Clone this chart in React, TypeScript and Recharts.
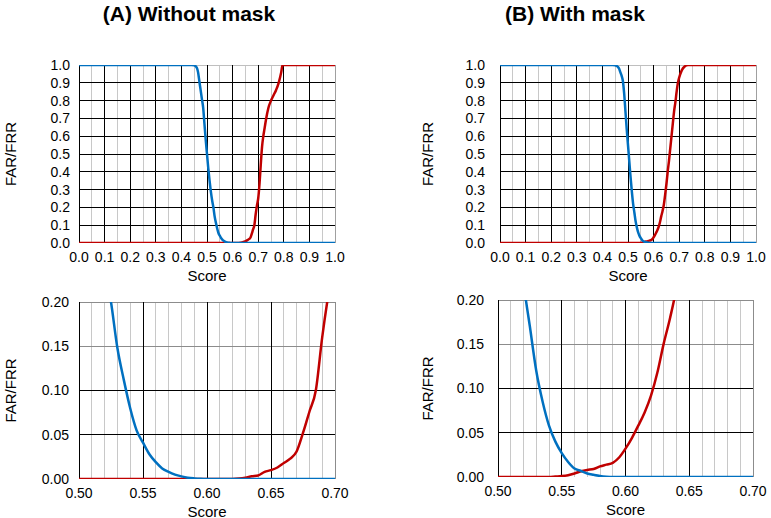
import React from 'react'
import { LineChart, Line, XAxis, YAxis, ReferenceLine } from 'recharts'

// blue curve (decreasing) and red curve (increasing)
const farAScore = [0, 0.44, 0.45, 0.46, 0.465, 0.47, 0.475, 0.48, 0.485, 0.49, 0.495, 0.5, 0.505, 0.51, 0.515, 0.52, 0.525, 0.53, 0.535, 0.54, 0.545, 0.55, 0.555, 0.56, 0.565, 0.57, 0.575, 0.58, 0.585, 0.59, 0.595, 0.6, 1.0]
const farA = [1, 1, 0.998, 0.985, 0.96, 0.91, 0.86, 0.81, 0.76, 0.67, 0.58, 0.5, 0.42, 0.35, 0.29, 0.24, 0.2, 0.148, 0.112, 0.08, 0.055, 0.041, 0.028, 0.019, 0.012, 0.008, 0.005, 0.003, 0.0015, 0.0007, 0.0002, 0, 0]
const frrAScore = [0, 0.62, 0.625, 0.63, 0.635, 0.64, 0.645, 0.65, 0.655, 0.66, 0.665, 0.67, 0.675, 0.68, 0.685, 0.69, 0.695, 0.7, 0.705, 0.71, 0.715, 0.72, 0.725, 0.73, 0.74, 0.75, 0.76, 0.77, 0.78, 0.79, 0.795, 1.0]
const frrA = [0, 0, 0.0005, 0.0015, 0.003, 0.004, 0.008, 0.01, 0.013, 0.018, 0.023, 0.031, 0.052, 0.076, 0.1, 0.16, 0.21, 0.25, 0.33, 0.44, 0.54, 0.6, 0.645, 0.69, 0.76, 0.8, 0.83, 0.86, 0.9, 0.96, 1, 1]

const farBScore = [0, 0.44, 0.45, 0.46, 0.465, 0.47, 0.475, 0.48, 0.485, 0.49, 0.495, 0.5, 0.505, 0.51, 0.515, 0.52, 0.525, 0.53, 0.535, 0.54, 0.545, 0.55, 0.555, 0.56, 0.565, 0.57, 0.575, 0.58, 0.585, 0.59, 1.0]
const farB = [1, 1, 0.998, 0.99, 0.98, 0.96, 0.94, 0.91, 0.84, 0.74, 0.64, 0.55, 0.46, 0.37, 0.29, 0.22, 0.17, 0.12, 0.085, 0.058, 0.04, 0.027, 0.017, 0.0095, 0.0068, 0.004, 0.0025, 0.0012, 0.0004, 0, 0]
const frrBScore = [0, 0.54, 0.545, 0.55, 0.555, 0.56, 0.565, 0.57, 0.575, 0.58, 0.585, 0.59, 0.595, 0.6, 0.605, 0.61, 0.615, 0.62, 0.625, 0.63, 0.635, 0.64, 0.645, 0.65, 0.655, 0.66, 0.665, 0.67, 0.675, 0.68, 0.685, 0.69, 0.695, 0.7, 0.71, 0.72, 0.735, 1.0]
const frrB = [0, 0, 0.0005, 0.001, 0.002, 0.004, 0.0065, 0.008, 0.009, 0.012, 0.014, 0.016, 0.022, 0.032, 0.044, 0.058, 0.073, 0.092, 0.118, 0.151, 0.18, 0.215, 0.27, 0.33, 0.4, 0.46, 0.53, 0.6, 0.67, 0.74, 0.79, 0.85, 0.9, 0.93, 0.97, 0.99, 1, 1]

// axis ticks and grid
const fullTicks = [0, 0.1, 0.2, 0.3, 0.4, 0.5, 0.6, 0.7, 0.8, 0.9, 1.0]
const fullMajor = [0.1, 0.2, 0.3, 0.4, 0.5, 0.6, 0.7, 0.8, 0.9]
const fullMinor = [0.05, 0.15, 0.25, 0.35, 0.45, 0.55, 0.65, 0.75, 0.85, 0.95]
const zoomXTicks = [0.5, 0.55, 0.6, 0.65, 0.7]
const zoomYTicks = [0, 0.05, 0.1, 0.15, 0.2]
const zoomXMajor = [0.55, 0.6, 0.65]
const zoomXMinor = [0.51, 0.52, 0.53, 0.54, 0.56, 0.57, 0.58, 0.59, 0.61, 0.62, 0.63, 0.64, 0.66, 0.67, 0.68, 0.69]
const zoomYBlack = [0.05, 0.1]
const zoomYGray = [0.15, 0.2]

const BLUE = '#0070C0'
const RED = '#C00000'
const FONT = '"Liberation Sans", Arial, sans-serif'

const toPoints = (xs: number[], ys: number[]) => xs.map((s, i) => ({ score: s, value: ys[i] }))

const yLabel = (dx: number) => (props: any) => {
  const vb = props.viewBox || { x: 0, y: 0, width: 0, height: 0 }
  const x = vb.x + dx
  const y = vb.y + vb.height / 2
  return (
    <text x={x} y={y} transform={`rotate(-90, ${x}, ${y})`} textAnchor="middle" dominantBaseline="central" fontSize={15} fill="#000" fontFamily={FONT}>
      FAR/FRR
    </text>
  )
}

const xLabel = (dy: number) => (props: any) => {
  const vb = props.viewBox || { x: 0, y: 0, width: 0, height: 0 }
  return (
    <text x={vb.x + vb.width / 2} y={vb.y + dy} textAnchor="middle" dominantBaseline="central" fontSize={15} fill="#000" fontFamily={FONT}>
      Score
    </text>
  )
}

interface PanelProps {
  far: { score: number; value: number }[]
  frr: { score: number; value: number }[]
  zoom: boolean
  left: number
  top: number
  width: number
  height: number
  margin: { top: number; right: number; left: number; bottom: number }
  yWidth: number
  xHeight: number
  yTickGap: number
  yLabelX: number
  xLabelY: number
}

function Panel(p: PanelProps) {
  const tick = { fill: '#000', fontSize: 14, fontFamily: FONT }
  const grid = (v: number, axis: 'x' | 'y', color: string) =>
    axis === 'x' ? (
      <ReferenceLine key={`x${v}`} x={v} stroke={color} strokeWidth={1} shapeRendering="crispEdges" ifOverflow="visible" />
    ) : (
      <ReferenceLine key={`y${v}`} y={v} stroke={color} strokeWidth={1} shapeRendering="crispEdges" ifOverflow="visible" />
    )
  return (
    <div style={{ position: 'absolute', left: p.left, top: p.top }}>
      <LineChart width={p.width} height={p.height} margin={p.margin}>
        <XAxis
          dataKey="score"
          type="number"
          domain={p.zoom ? [0.5, 0.7] : [0, 1]}
          ticks={p.zoom ? zoomXTicks : fullTicks}
          tickFormatter={(v: number) => v.toFixed(p.zoom ? 2 : 1)}
          allowDataOverflow
          axisLine={false}
          tickLine={false}
          tickSize={6}
          tickMargin={3}
          height={p.xHeight}
          tick={tick}
          interval={0}
          label={xLabel(p.xLabelY)}
        />
        <YAxis
          type="number"
          domain={p.zoom ? [0, 0.2] : [0, 1]}
          ticks={p.zoom ? zoomYTicks : fullTicks}
          tickFormatter={(v: number) => v.toFixed(p.zoom ? 2 : 1)}
          allowDataOverflow
          axisLine={false}
          tickLine={false}
          tickSize={6}
          tickMargin={p.yTickGap - 6}
          width={p.yWidth}
          tick={tick}
          interval={0}
          label={yLabel(p.yLabelX)}
        />
        {p.zoom ? (
          <>
            {zoomXMinor.map((v) => grid(v, 'x', '#C8C8C8'))}
            {zoomYGray.map((v) => grid(v, 'y', '#8C8C8C'))}
            {zoomYBlack.map((v) => grid(v, 'y', '#000'))}
            {zoomXMajor.map((v) => grid(v, 'x', '#000'))}
            {grid(0.7, 'x', '#8C8C8C')}
            {grid(0.5, 'x', '#000')}
          </>
        ) : (
          <>
            {fullMinor.map((v) => grid(v, 'x', '#C8C8C8'))}
            {grid(1, 'y', '#BFBFBF')}
            {fullMajor.map((v) => grid(v, 'y', '#000'))}
            {fullMajor.map((v) => grid(v, 'x', '#000'))}
            {grid(1, 'x', '#A0A0A0')}
            {grid(0, 'x', '#000')}
          </>
        )}
        <Line data={p.frr} dataKey="value" type="monotone" stroke={RED} strokeWidth={2.5} dot={false} isAnimationActive={false} />
        <Line data={p.far} dataKey="value" type="monotone" stroke={BLUE} strokeWidth={2.5} dot={false} isAnimationActive={false} />
      </LineChart>
    </div>
  )
}

export default function App() {
  const farPtsA = toPoints(farAScore, farA)
  const frrPtsA = toPoints(frrAScore, frrA)
  const farPtsB = toPoints(farBScore, farB)
  const frrPtsB = toPoints(frrBScore, frrB)
  const titleStyle: React.CSSProperties = {
    position: 'absolute',
    top: 0,
    width: 300,
    height: 28,
    lineHeight: '28px',
    textAlign: 'center',
    fontWeight: 'bold',
    fontSize: 21,
    fontFamily: FONT,
    color: '#000',
  }
  return (
    <div style={{ position: 'absolute', left: 0, top: 0, width: 771, height: 518, background: '#fff', fontFamily: FONT }}>
      <div style={{ ...titleStyle, left: 189 - 150 }}>(A) Without mask</div>
      <div style={{ ...titleStyle, left: 575 - 150 }}>(B) With mask</div>
      <Panel far={farPtsA} frr={frrPtsA} zoom={false} left={0} top={40} width={385} height={245}
        margin={{ top: 25, right: 50, left: 0, bottom: 0 }} yWidth={79} xHeight={42} yTickGap={9} yLabelX={10} xLabelY={32} />
      <Panel far={farPtsB} frr={frrPtsB} zoom={false} left={385} top={40} width={386} height={245}
        margin={{ top: 25, right: 15, left: 0, bottom: 0 }} yWidth={115} xHeight={42} yTickGap={15} yLabelX={42} xLabelY={32} />
      <Panel far={farPtsA} frr={frrPtsA} zoom={true} left={0} top={280} width={385} height={238}
        margin={{ top: 22, right: 50, left: 0, bottom: 0 }} yWidth={79} xHeight={39} yTickGap={10} yLabelX={10} xLabelY={32} />
      <Panel far={farPtsB} frr={frrPtsB} zoom={true} left={385} top={280} width={386} height={238}
        margin={{ top: 20, right: 18, left: 0, bottom: 0 }} yWidth={113} xHeight={41} yTickGap={14} yLabelX={42} xLabelY={32} />
    </div>
  )
}
